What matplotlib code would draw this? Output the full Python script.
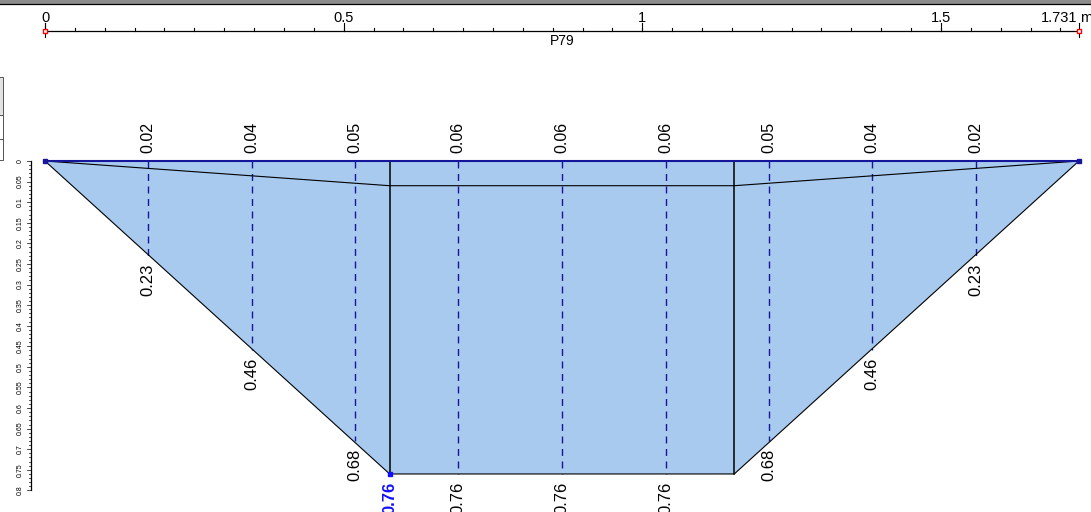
import matplotlib
matplotlib.use("Agg")
import matplotlib.pyplot as plt
from matplotlib.patches import Polygon, Rectangle
from matplotlib.lines import Line2D

plt.rcParams['font.family'] = ['Liberation Sans', 'DejaVu Sans']

# cross-section P79
SECTION_NAME = "P79"
TOP_WIDTH = 1.731
section_x = [0.0, 0.577, 1.154, 1.731]
section_depth = [0.0, 0.76, 0.76, 0.0]
inner_x = [0.0, 0.577, 1.154, 1.731]
inner_depth = [0.0, 0.06, 0.06, 0.0]

# measuring verticals
station_x = [0.173, 0.346, 0.519, 0.692, 0.866, 1.039, 1.212, 1.385, 1.558]
station_top = [0.02, 0.04, 0.05, 0.06, 0.06, 0.06, 0.05, 0.04, 0.02]
station_depth = [0.23, 0.46, 0.68, 0.76, 0.76, 0.76, 0.68, 0.46, 0.23]
max_depth_x = 0.577
max_depth = 0.76

ruler_labels = [0, 0.5, 1, 1.5]
depth_labels = [0, 0.05, 0.1, 0.15, 0.2, 0.25, 0.3, 0.35, 0.4, 0.45, 0.5,
                0.55, 0.6, 0.65, 0.7, 0.75, 0.8]

W, H = 1091, 512
X0, SX = 45.0, 597.3     # px at x=0, px per metre
Y0, SY = 161.0, 411.8    # px at depth 0, px per metre
px = 1.0 / SX
py = 1.0 / SY

fig = plt.figure(figsize=(W / 100, H / 100), dpi=100)
ax = fig.add_axes([0, 0, 1, 1])
ax.set_xlim(-X0 / SX, (W - X0) / SX)
ax.set_ylim((H - Y0) / SY, -Y0 / SY)
ax.axis("off")

fill_c = "#a8caef"
navy = "#16169a"

# wetted area
pts = list(zip(section_x, section_depth))
ax.add_patch(Polygon(pts, closed=True, facecolor=fill_c, edgecolor="none", zorder=1))
ax.plot(section_x, section_depth, color="black", lw=0.8, zorder=3)
ax.plot([section_x[0], section_x[-1]], [0, 0], color=navy, lw=1.5, zorder=4)
ax.plot(inner_x, inner_depth, color="black", lw=0.8, zorder=3)
for xv in inner_x[1:3]:
    ax.plot([xv, xv], [0, max_depth], color="black", lw=1.1, zorder=3)

# dashed verticals
for xv, d in zip(station_x, station_depth):
    ax.plot([xv, xv], [0, d], color=navy, lw=1.0, dashes=(5, 4), zorder=2)

for xv, t in zip(station_x, station_top):
    ax.annotate(f"{t:.2f}", xy=(xv, 0), xytext=(0, 5.5), textcoords="offset points",
                rotation=90, ha="center", va="bottom", fontsize=11.5)
for xv, d in zip(station_x, station_depth):
    ax.annotate(f"{d:.2f}", xy=(xv, d), xytext=(0, -5.5), textcoords="offset points",
                rotation=90, ha="center", va="top", fontsize=12)
ax.annotate(f"{max_depth:.2f}", xy=(max_depth_x, max_depth), xytext=(0, -5.5),
            textcoords="offset points", rotation=90, ha="center", va="top",
            fontsize=12, fontweight="bold", color="#1010ff")

ax.plot([0, TOP_WIDTH], [0, 0], ls="none", marker="s", ms=2.5, color=navy, zorder=5)
ax.plot([max_depth_x], [max_depth], ls="none", marker="s", ms=2.5, color="#1010ff", zorder=5)

# horizontal ruler
ry = (31 - Y0) * py
ax.plot([0, TOP_WIDTH], [ry, ry], color="black", lw=0.9)
k = 0
while k * 0.05 < TOP_WIDTH - 0.01:
    xv = k * 0.05
    ax.plot([xv, xv], [ry, ry - 3 * py], color="black", lw=0.8)
    k += 1
for v in ruler_labels:
    ax.plot([v, v], [ry, ry - 8 * py], color="black", lw=0.8)
    ax.text(v, ry - 8.5 * py, f"{v:g}", ha="center", va="baseline", fontsize=10.5)
for v in [0, TOP_WIDTH]:
    ax.plot([v, v], [ry - 8 * py, ry + 6 * py], color="black", lw=0.8)
    ax.plot([v], [ry], marker="s", ms=3.5, mfc="white", mec="#ff0000", mew=1.0, zorder=5)
ax.text(TOP_WIDTH - 1.5 * px, ry - 8.5 * py, f"{TOP_WIDTH}", ha="right", va="baseline", fontsize=10.5)
ax.text(TOP_WIDTH + 1.5 * px, ry - 8.5 * py, "m", ha="left", va="baseline", fontsize=10.5)
ax.text(TOP_WIDTH / 2, ry + 10 * py, SECTION_NAME, ha="center", va="center", fontsize=10)

# vertical ruler
rx = (31 - X0) * px
ax.plot([rx, rx], [0, depth_labels[-1]], color="black", lw=0.9)
for k in range(81):
    d = k * 0.01
    ln = 4 if k % 5 == 0 else 2
    ax.plot([rx - ln * px, rx], [d, d], color="black", lw=0.5)
for d in depth_labels:
    ax.text((20 - X0) * px, d, f"{d:g}", rotation=90, ha="center", va="center", fontsize=5)

# window frame bits
fig.patches.append(Rectangle((0, 1 - 3.5 / H), 1, 3.5 / H, transform=fig.transFigure,
                             facecolor="#8c8c8c", edgecolor="none"))
fig.lines.append(Line2D([0, 1], [1 - 4 / H] * 2, transform=fig.transFigure, color="black", lw=0.9))
fig.patches.append(Rectangle((-5 / W, 1 - 115 / H), 8 / W, 38 / H, transform=fig.transFigure,
                             facecolor="#e2e2e2", edgecolor="#555555", lw=0.7))
fig.patches.append(Rectangle((-5 / W, 1 - 160 / H), 8 / W, 45 / H, transform=fig.transFigure,
                             facecolor="white", edgecolor="#555555", lw=0.7))
fig.lines.append(Line2D([0, 3 / W], [1 - 139 / H] * 2, transform=fig.transFigure, color="#555555", lw=0.7))

fig.savefig("out.png", dpi=100)
